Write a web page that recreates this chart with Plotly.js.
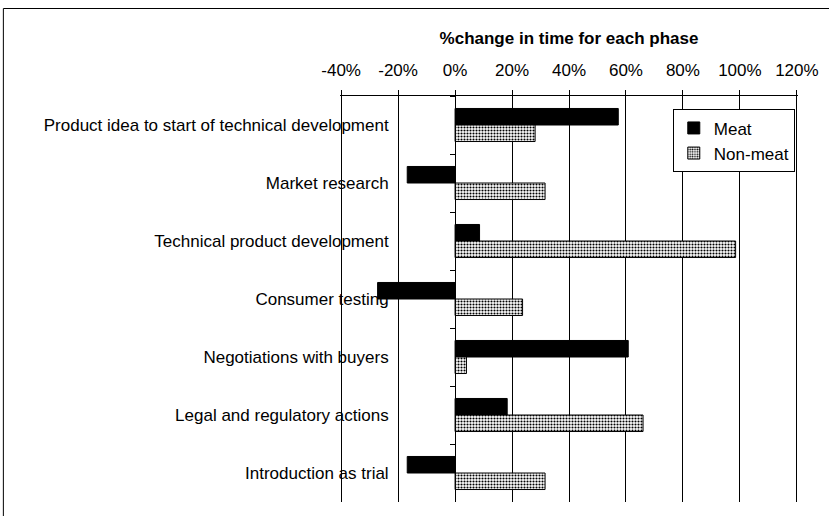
<!DOCTYPE html>
<html>
<head>
<meta charset="utf-8">
<script src="https://cdn.plot.ly/plotly-3.0.1.min.js"></script>
<style>
html,body{margin:0;padding:0;background:#fff;}
#chart{width:829px;height:516px;}
</style>
</head>
<body>
<div id="chart"></div>
<script>
const categories = [
  "Product idea to start of technical development",
  "Market research",
  "Technical product development",
  "Consumer testing",
  "Negotiations with buyers",
  "Legal and regulatory actions",
  "Introduction as trial"
];
const meatValues = [57.3, -16.8, 8.6, -27.2, 60.8, 18.3, -16.8];
const nonMeatValues = [28.1, 31.6, 98.5, 23.7, 4.0, 66.0, 31.6];
const seriesNames = ["Meat", "Non-meat"];
const xTickVals = [-40, -20, 0, 20, 40, 60, 80, 100, 120];
const xTickText = ["-40%", "-20%", "0%", "20%", "40%", "60%", "80%", "100%", "120%"];

const FONT = "Liberation Sans, Arial, sans-serif";
const FS = 17;

const traces = [
  {
    type: "bar", orientation: "h", name: seriesNames[0], legendgroup: "g1",
    x: meatValues, y: categories,
    marker: {color: "#000000", line: {color: "#000000", width: 1}},
    hoverinfo: "x+y+name"
  },
  {
    type: "bar", orientation: "h", name: seriesNames[1], legendgroup: "g2",
    x: nonMeatValues, y: categories,
    marker: {
      color: "#ffffff",
      line: {color: "#000000", width: 1},
      pattern: {shape: ".", size: 3, solidity: 0.4, fgcolor: "#000000", bgcolor: "#ffffff", fillmode: "replace"}
    },
    hoverinfo: "x+y+name"
  }
];

const layout = {
  width: 829, height: 516,
  margin: {l: 340, r: 31, t: 96, b: 14, pad: 0},
  paper_bgcolor: "#ffffff",
  plot_bgcolor: "#ffffff",
  font: {family: FONT, size: FS, color: "#000000"},
  barmode: "group",
  bargap: 0.43,
  bargroupgap: 0,
  showlegend: true,
  legend: {
    x: 0.993, y: 0.967, xanchor: "right", yanchor: "top",
    bgcolor: "#ffffff", bordercolor: "#000000", borderwidth: 1,
    traceorder: "normal",
    font: {family: FONT, size: FS, color: "#000000"},
    itemwidth: 30, tracegroupgap: 4
  },
  xaxis: {
    side: "top",
    range: [-40.4, 120.4],
    tickvals: xTickVals,
    ticktext: xTickText,
    showgrid: true, gridcolor: "#000000", gridwidth: 1,
    zeroline: false,
    showline: true, linecolor: "#000000", linewidth: 1,
    ticks: "outside", ticklen: 5, tickcolor: "#000000",
    ticklabelstandoff: 7,
    tickfont: {family: FONT, size: FS, color: "#000000"},
    title: {text: "%change in time for each phase", font: {family: FONT, size: FS, color: "#000000", weight: "bold"}, standoff: 12}
  },
  yaxis: {
    type: "category",
    autorange: "reversed",
    anchor: "free", position: 40.4 / 160.8,
    showgrid: false, zeroline: false,
    showline: true, linecolor: "#000000", linewidth: 1,
    ticks: "outside", ticklen: 5, tickcolor: "#000000",
    tickson: "boundaries",
    ticklabelstandoff: 63,
    tickfont: {family: FONT, size: FS, color: "#000000"}
  },
  shapes: [
    {type: "rect", xref: "paper", yref: "paper", x0: -0.735, x1: 1.2, y0: -0.2, y1: 1.2155,
     line: {color: "#000000", width: 1}, fillcolor: "rgba(0,0,0,0)", layer: "below"}
  ]
};

Plotly.newPlot("chart", traces, layout, {displayModeBar: false, staticPlot: true});
</script>
</body>
</html>
